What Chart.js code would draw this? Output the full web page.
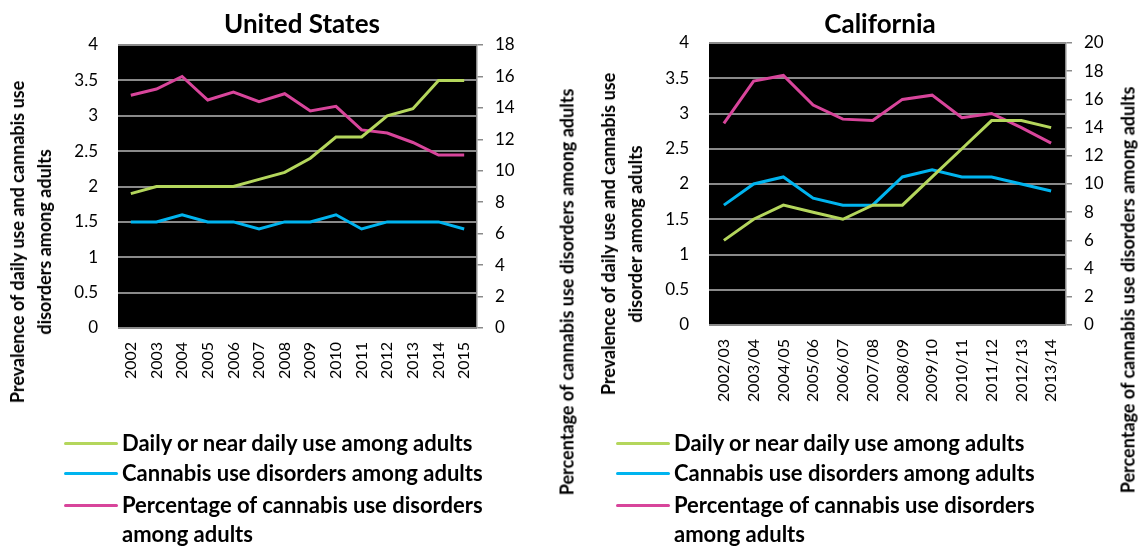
<!DOCTYPE html>
<html>
<head>
<meta charset="utf-8">
<script src="https://cdn.jsdelivr.net/npm/chart.js@4.4.1/dist/chart.umd.min.js"></script>
<style>
  html, body { margin: 0; padding: 0; background: #fff; }
  body { width: 1143px; height: 549px; position: relative; overflow: hidden; font-family: Lato, "Open Sans", sans-serif; color: #000; }
  .cv { position: absolute; top: 0; }
  .title { position: absolute; font-weight: bold; font-size: 26px; transform: translate(-50%, -50%); white-space: nowrap; }
  .ax { position: absolute; font-weight: bold; font-size: 18px; line-height: 27px; text-align: center; white-space: nowrap;
        transform: translate(-50%, -50%) rotate(-90deg); }
  .legend { position: absolute; font-weight: bold; font-size: 22px; }
  .legend .row { position: absolute; left: 0; white-space: nowrap; height: 30px; line-height: 30px; }
  .legend .sw { position: absolute; left: 0; top: 14px; width: 54px; height: 3px; border-radius: 2px; }
  .legend .tx { position: absolute; left: 58px; top: 0; line-height: 29px; }
</style>
</head>
<body>
<canvas id="us" class="cv" style="left:0px" width="580" height="549"></canvas>
<canvas id="ca" class="cv" style="left:580px" width="563" height="549"></canvas>

<div class="title" style="left:302px; top:23px">United States</div>
<div class="title" style="left:880px; top:23px">California</div>

<div class="ax" style="left:31px; top:242px">Prevalence of daily use and cannabis use<br>disorders among adults</div>
<div class="ax" style="left:567px; top:292px">Percentage of cannabis use disorders among adults</div>
<div class="ax" style="left:622px; top:234px">Prevalence of daily use and cannabis use<br>disorder among adults</div>
<div class="ax" style="left:1128px; top:290px">Percentage of cannabis use disorders among adults</div>

<div id="legUS" class="legend" style="left:64px; top:428px"></div>
<div id="legCA" class="legend" style="left:616px; top:428px"></div>

<script>
// United States
var usYears = ['2002', '2003', '2004', '2005', '2006', '2007', '2008', '2009', '2010', '2011', '2012', '2013', '2014', '2015'];
var usDaily = [1.9, 2.0, 2.0, 2.0, 2.0, 2.1, 2.2, 2.4, 2.7, 2.7, 3.0, 3.1, 3.5, 3.5];
var usDisorders = [1.5, 1.5, 1.6, 1.5, 1.5, 1.4, 1.5, 1.5, 1.6, 1.4, 1.5, 1.5, 1.5, 1.4];
var usPercent = [14.8, 15.2, 16.0, 14.5, 15.0, 14.4, 14.9, 13.8, 14.1, 12.6, 12.4, 11.8, 11.0, 11.0];

// California
var caYears = ['2002/03', '2003/04', '2004/05', '2005/06', '2006/07', '2007/08', '2008/09', '2009/10', '2010/11', '2011/12', '2012/13', '2013/14'];
var caDaily = [1.2, 1.5, 1.7, 1.6, 1.5, 1.7, 1.7, 2.1, 2.5, 2.9, 2.9, 2.8];
var caDisorders = [1.7, 2.0, 2.1, 1.8, 1.7, 1.7, 2.1, 2.2, 2.1, 2.1, 2.0, 1.9];
var caPercent = [14.3, 17.3, 17.7, 15.6, 14.6, 14.5, 16.0, 16.3, 14.7, 15.0, 14.0, 12.9];

var seriesNames = ['Daily or near daily use among adults', 'Cannabis use disorders among adults', 'Percentage of cannabis use disorders among adults'];
var seriesColors = ['#b4d65c', '#00b4ef', '#d8459b'];

Chart.defaults.font.family = 'Lato, "Open Sans", sans-serif';
Chart.defaults.color = '#000';

var blackPlot = {
    id: 'blackPlot',
    beforeDraw: function(chart) {
        var a = chart.chartArea, ctx = chart.ctx;
        ctx.save();
        ctx.fillStyle = '#000';
        ctx.fillRect(a.left, a.top, a.right - a.left, a.bottom - a.top);
        ctx.restore();
    }
};

function plain(v) { return String(v); }

function makeChart(id, labels, daily, disorders, percent, rightMax, box) {
    var sets = [daily, disorders, percent];
    return new Chart(document.getElementById(id), {
        type: 'line',
        data: {
            labels: labels,
            datasets: sets.map(function(d, i) {
                return {
                    label: seriesNames[i],
                    data: d,
                    borderColor: seriesColors[i],
                    borderWidth: 3,
                    pointRadius: 0,
                    tension: 0,
                    fill: false,
                    yAxisID: i === 2 ? 'y1' : 'y'
                };
            })
        },
        options: {
            responsive: false,
            animation: false,
            layout: {padding: {top: box.top, left: 0, right: 0, bottom: 0}},
            plugins: {legend: {display: false}, tooltip: {enabled: false}},
            scales: {
                x: {
                    offset: true,
                    grid: {display: false, drawTicks: false},
                    border: {display: false},
                    ticks: {autoSkip: false, minRotation: 90, maxRotation: 90, padding: 14, font: {size: 16}},
                    afterFit: function(s) { s.height = box.xh; }
                },
                y: {
                    min: 0, max: 4,
                    ticks: {stepSize: 0.5, padding: 20, font: {size: 17}, callback: plain},
                    grid: {color: '#8a8a8a', lineWidth: 2, drawTicks: false},
                    border: {display: false},
                    afterFit: function(s) { s.width = box.left; }
                },
                y1: {
                    position: 'right',
                    min: 0, max: rightMax,
                    ticks: {stepSize: 2, padding: 12, font: {size: 17}, callback: plain},
                    grid: {drawOnChartArea: false, color: '#8a8a8a', tickLength: 6, lineWidth: 1.5},
                    border: {color: '#8a8a8a', width: 1.5},
                    afterFit: function(s) { s.width = box.right; }
                }
            }
        },
        plugins: [blackPlot]
    });
}

makeChart('us', usYears, usDaily, usDisorders, usPercent, 18, {top: 45, left: 118, right: 103, xh: 221});
makeChart('ca', caYears, caDaily, caDisorders, caPercent, 20, {top: 43, left: 129, right: 77, xh: 224});

function buildLegend(id) {
    var el = document.getElementById(id);
    var tops = [0, 30, 62];
    seriesNames.forEach(function(name, i) {
        var row = document.createElement('div');
        row.className = 'row';
        row.style.top = tops[i] + 'px';
        var sw = document.createElement('span');
        sw.className = 'sw';
        sw.style.background = seriesColors[i];
        var tx = document.createElement('span');
        tx.className = 'tx';
        tx.innerHTML = i === 2 ? 'Percentage of cannabis use disorders<br>among adults' : name;
        row.appendChild(sw);
        row.appendChild(tx);
        el.appendChild(row);
    });
}
buildLegend('legUS');
buildLegend('legCA');
</script>
</body>
</html>
